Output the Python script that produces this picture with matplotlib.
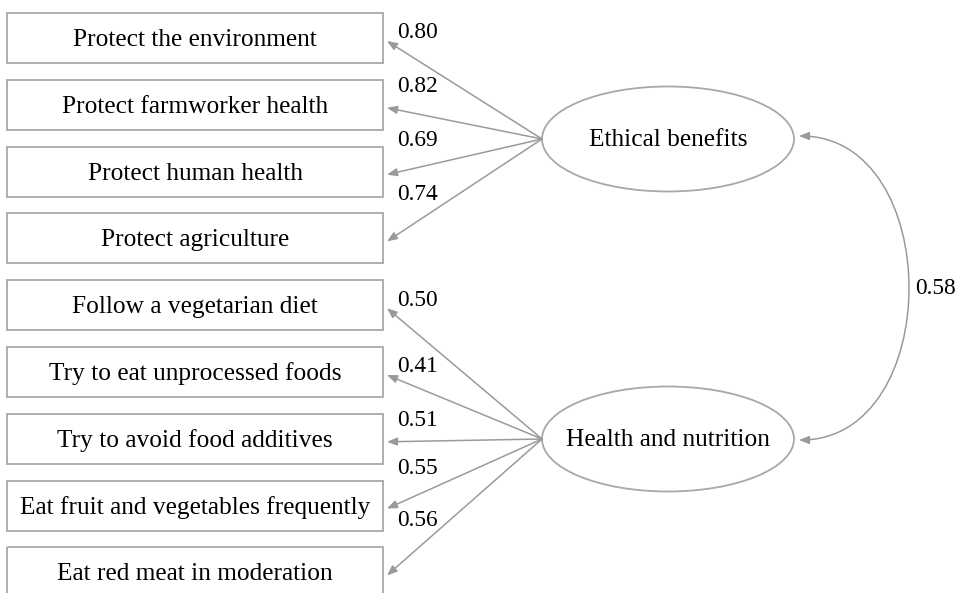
import matplotlib.pyplot as plt
from matplotlib.patches import Rectangle, Ellipse, FancyArrowPatch
from matplotlib.path import Path

# indicator items and standardised loadings
items = ["Protect the environment", "Protect farmworker health", "Protect human health",
         "Protect agriculture", "Follow a vegetarian diet", "Try to eat unprocessed foods",
         "Try to avoid food additives", "Eat fruit and vegetables frequently",
         "Eat red meat in moderation"]
loadings = [0.80, 0.82, 0.69, 0.74, 0.50, 0.41, 0.51, 0.55, 0.56]
factors = ["Ethical benefits", "Health and nutrition"]
factor_of_item = [0, 0, 0, 0, 1, 1, 1, 1, 1]
correlation = 0.58

W, H = 961, 593
fig = plt.figure(figsize=(W / 100, H / 100), dpi=100)
ax = fig.add_axes([0, 0, 1, 1])
ax.set_xlim(0, W)
ax.set_ylim(H, 0)
ax.axis("off")

font = "Liberation Serif"
gray = "#9a9a9a"
box_edge = "#a8a8a8"
name_size = 18.3
num_size = 16.8

box_left, box_right = 7, 383
box_h = 50
box_top0 = 13
box_step = 66.8

ell_cx, ell_w, ell_h = 668, 252, 105
ell_cy = [139, 439]

for i, f in enumerate(factors):
    ax.add_patch(Ellipse((ell_cx, ell_cy[i]), ell_w, ell_h, fill=False, edgecolor=box_edge, lw=1.3))
    ax.text(ell_cx, ell_cy[i] + 1, f, ha="center", va="center", fontsize=name_size, family=font)

label_y = [33, 87, 140, 195, 301, 366, 421, 469, 521]

for i, (name, val) in enumerate(zip(items, loadings)):
    top = box_top0 + i * box_step
    cy = top + box_h / 2
    ax.add_patch(Rectangle((box_left, top), box_right - box_left, box_h,
                           fill=False, edgecolor=box_edge, lw=1.3))
    ax.text((box_left + box_right) / 2, cy + 2, name, ha="center", va="center",
            fontsize=name_size, family=font)
    start = (ell_cx - ell_w / 2, ell_cy[factor_of_item[i]])
    end = (box_right + 4, cy + 3)
    ax.add_patch(FancyArrowPatch(start, end, arrowstyle="-|>,head_length=0.5,head_width=0.2",
                                 mutation_scale=12, color=gray, lw=1.1, shrinkA=0, shrinkB=0))
    ax.text(397, label_y[i], f"{val:.2f}", ha="left", va="center", fontsize=num_size, family=font)

# correlation between the two factors
x0 = ell_cx + ell_w / 2 + 5
curve = Path([(x0, 136), (945, 136), (945, 440), (x0, 440)],
             [Path.MOVETO, Path.CURVE4, Path.CURVE4, Path.CURVE4])
ax.add_patch(FancyArrowPatch(path=curve, arrowstyle="<|-|>,head_length=0.5,head_width=0.2",
                             mutation_scale=12, color=gray, lw=1.1))
ax.text(915, 288, f"{correlation:.2f}", ha="left", va="center", fontsize=num_size, family=font)

fig.savefig("out.png", dpi=100)
